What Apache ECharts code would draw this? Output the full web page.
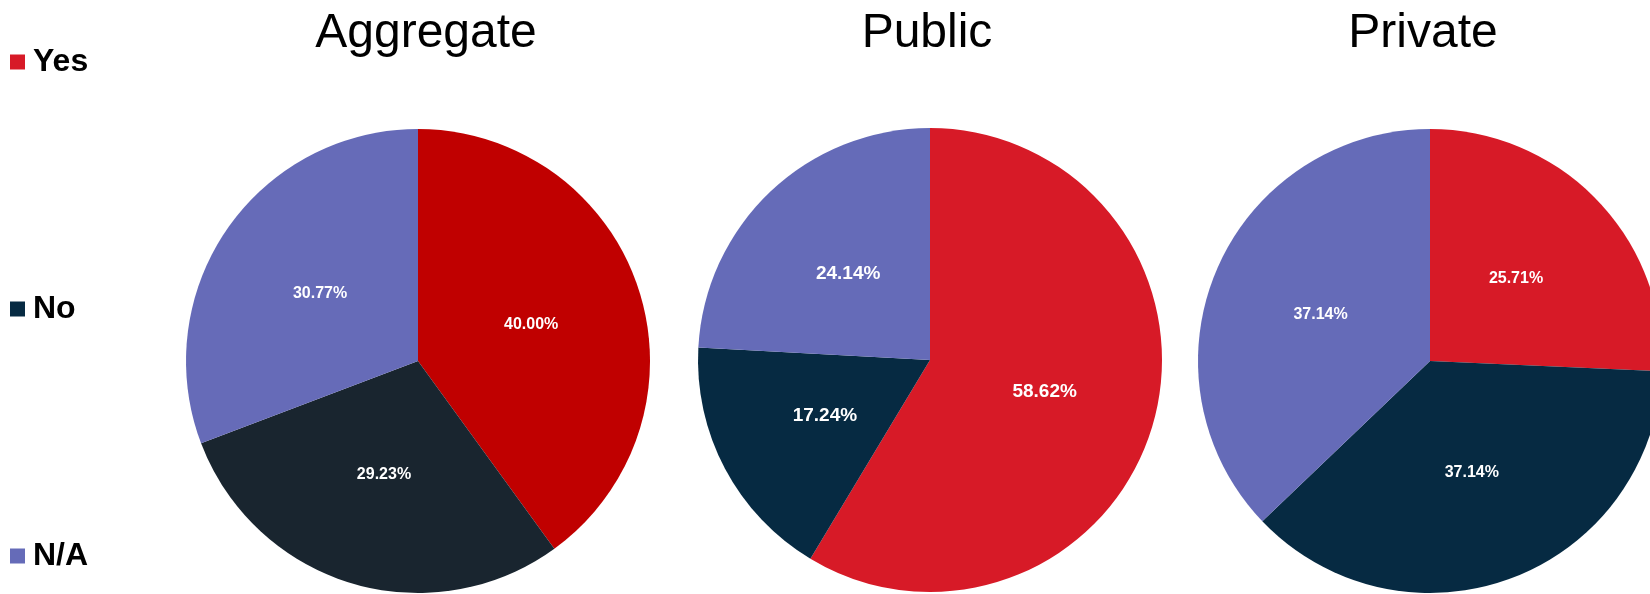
<!DOCTYPE html>
<html>
<head>
<meta charset="utf-8">
<script src="https://cdn.jsdelivr.net/npm/echarts@6/dist/echarts.min.js"></script>
<style>
  html, body { margin: 0; padding: 0; background: #fff; }
  #showChart { width: 1650px; height: 594px; }
</style>
</head>
<body>
<div id="showChart"></div>
<script>
// categories and the three pies
var categories = ['Yes', 'No', 'N/A'];
var aggregateValues = [40.00, 29.23, 30.77];
var publicValues = [58.62, 17.24, 24.14];
var privateValues = [25.71, 37.14, 37.14];

var legendColors = ['#D71A27', '#062A42', '#656BB8'];
var aggregateColors = ['#C00000', '#19252F', '#666BB8'];
var otherColors = ['#D71A27', '#062A42', '#656BB8'];

var fontName = '"Liberation Sans", Arial, sans-serif';

var myChart = echarts.init(document.getElementById('showChart'));

function makeData(values, colors)
{
	var list = [];
	for (var i = 0; i < categories.length; i++) {
		list.push({ name: categories[i], value: values[i], itemStyle: { color: colors[i] } });
	}
	return list;
}

function makePie(name, values, colors, center, labelSize)
{
	return {
		name: name,
		type: 'pie',
		center: center,
		radius: 232,
		startAngle: 90,
		clockwise: true,
		animation: false,
		silent: true,
		label: {
			show: true,
			position: 'inside',
			color: '#fff',
			fontWeight: 'bold',
			fontSize: labelSize,
			fontFamily: fontName,
			formatter: function (p) {
				return p.value.toFixed(2) + '%';
			}
		},
		labelLine: { show: false },
		data: makeData(values, colors)
	};
}

var legendData = [];
for (var i = 0; i < categories.length; i++) {
	legendData.push({ name: categories[i], itemStyle: { color: legendColors[i] } });
}

function makeTitle(text, x)
{
	return {
		text: text,
		left: x,
		top: 5,
		textAlign: 'center',
		textStyle: { fontSize: 48, fontWeight: 'normal', color: '#000', fontFamily: fontName }
	};
}

option = {
	backgroundColor: '#fff',
	animation: false,
	title: [
		makeTitle('Aggregate', 421),
		makeTitle('Public', 922),
		makeTitle('Private', 1418)
	],
	legend: {
		orient: 'vertical',
		left: 10,
		top: 46,
		padding: 0,
		itemGap: 215,
		itemWidth: 15,
		itemHeight: 15,
		icon: 'rect',
		selectedMode: false,
		textStyle: { fontSize: 32, fontWeight: 'bold', color: '#000', fontFamily: fontName, padding: [0, 0, 0, 3] },
		data: legendData
	},
	series: [
		makePie('Aggregate', aggregateValues, aggregateColors, [418, 361], 16),
		makePie('Public', publicValues, otherColors, [930, 360], 19),
		makePie('Private', privateValues, otherColors, [1430, 361], 16)
	]
};

myChart.setOption(option);
</script>
</body>
</html>
